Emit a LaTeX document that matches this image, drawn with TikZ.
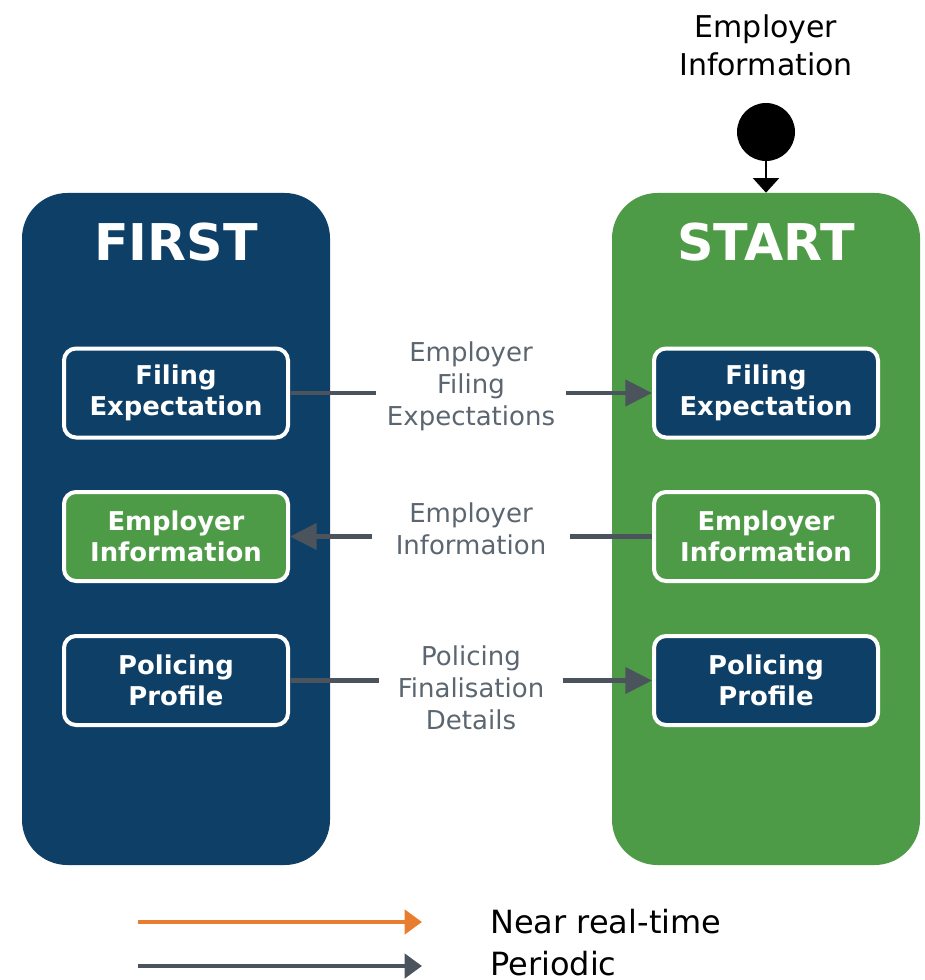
\documentclass[tikz,border=0pt]{standalone}
\usepackage{fontspec}
\setmainfont{DejaVu Sans}
\usepackage{tikz}
\usetikzlibrary{arrows.meta,positioning,shapes.geometric}
\definecolor{firstblue}{HTML}{0E3F67}
\definecolor{startgreen}{HTML}{4E9B47}
\definecolor{flowgray}{HTML}{4B545D}
\definecolor{labelgray}{HTML}{5B6670}
\definecolor{nrtorange}{HTML}{E87D2F}
\tikzset
{
    system/.style = {rounded corners=34pt, minimum width=231pt, minimum height=504pt, inner sep=0pt},
    systitle/.style = {text=white, font=\bfseries\fontsize{38}{40}\selectfont},
    record/.style = {draw=white, line width=3pt, rounded corners=9pt, minimum width=168pt, minimum height=66.75pt, align=center, text=white, font=\bfseries\fontsize{19.4}{23.25}\selectfont},
    flowlabel/.style = {align=center, text=labelgray, minimum width=142pt, inner sep=0pt, font=\fontsize{19.5}{24}\selectfont},
    periodic/.style = {draw=flowgray, line width=3.2pt},
    flowhead/.style = {-{Triangle[length=20pt, width=19.5pt]}},
    legendhead/.style = {-{Triangle[length=13pt, width=18pt]}},
    legendtext/.style = {anchor=base west, inner sep=0pt, font=\fontsize{24}{28}\selectfont}
}

\begin{document}
\begin{tikzpicture}[x=0.75pt, y=-0.75pt]
\useasboundingbox (0,0) rectangle (924,980);
% the two systems
\node[system, fill=firstblue] (first) at (176,529) {};
\node[system, fill=startgreen] (start) at (766,529) {};
\node[systitle] (firsttitle) at (176,242) {FIRST};
\node[systitle] (starttitle) at (766,242) {START};

% records on each side
\node[record, fill=firstblue] (lfe) at (176,393) {Filing\\Expectation};
\node[record, fill=startgreen] (lei) at (176,536.5) {Employer\\Information};
\node[record, fill=firstblue] (lpp) at (176,680.5) {Policing\\Profile};
\node[record, fill=firstblue] (rfe) at (766,393) {Filing\\Expectation};
\node[record, fill=startgreen] (rei) at (766,536.5) {Employer\\Information};
\node[record, fill=firstblue] (rpp) at (766,680.5) {Policing\\Profile};

% entry point
\node[align=center, font=\fontsize{22.5}{28.5}\selectfont] (entry) at (766,45) {Employer\\Information};
\node[circle, fill=black, minimum size=43.5pt, inner sep=0pt] (origin) at (766,132) {};
\draw[line width=1.5pt, -{Triangle[length=11pt, width=19.5pt]}] (origin) -- (start.north);

% flows between the systems
\node[flowlabel] (fel) at (471,386) {Employer\\Filing\\Expectations};
\node[flowlabel, minimum width=148pt] (eil) at (471,529) {Employer\\Information};
\node[flowlabel, minimum width=137pt] (pfl) at (471,688) {Policing\\Finalisation\\Details};
\draw[periodic] (lfe.east) -- (lfe.east -| fel.west);
\draw[periodic, flowhead] (rfe.west -| fel.east) -- (rfe.west);
\draw[periodic] (rei.west) -- (rei.west -| eil.east);
\draw[periodic, flowhead] (lei.east -| eil.west) -- (lei.east);
\draw[periodic] (lpp.east) -- (lpp.east -| pfl.west);
\draw[periodic, flowhead] (rpp.west -| pfl.east) -- (rpp.west);

% legend
\coordinate (nrtfrom) at (138,922);
\coordinate (nrtto) at (422,922);
\coordinate (perfrom) at (138,966);
\coordinate (perto) at (422,966);
\draw[line width=3.2pt, draw=nrtorange, color=nrtorange, legendhead] (nrtfrom) -- (nrtto);
\draw[periodic, color=flowgray, legendhead] (perfrom) -- (perto);
\node[legendtext] (nrt) at (490,933) {Near real-time};
\node[legendtext] (per) at (490,975) {Periodic};
\end{tikzpicture}
\end{document}
